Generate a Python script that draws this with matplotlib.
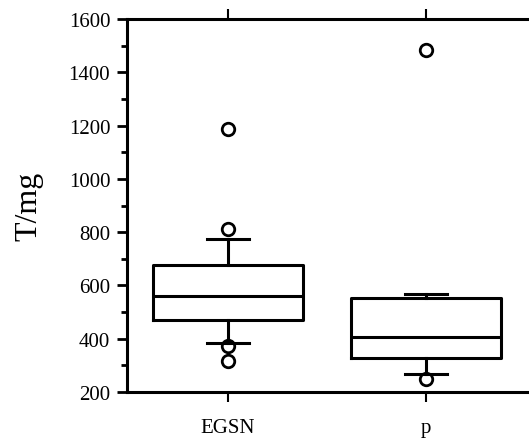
import numpy as np
import matplotlib
matplotlib.use('Agg')
import matplotlib.pyplot as plt

plt.rcParams['font.family'] = ['Liberation Serif', 'DejaVu Serif']

# box summary
groups = ['EGSN', 'p']
q1 = [472, 327]
med = [562, 405]
q3 = [678, 552]
whislo = [384, 268]
whishi = [774, 569]
fliers = [[1187, 812, 373, 318], [1484, 249]]

stats = []
for i in range(len(groups)):
    stats.append({'label': groups[i], 'q1': q1[i], 'med': med[i], 'q3': q3[i],
                  'whislo': whislo[i], 'whishi': whishi[i], 'fliers': fliers[i]})

fig = plt.figure(figsize=(5.29, 4.39), dpi=100)
ax = fig.add_axes([0.240, 0.1048, 0.760, 0.8496])

lw = 2.2
ax.bxp(stats, positions=[1, 2], widths=0.755, capwidths=0.21,
       boxprops=dict(color='black', linewidth=lw),
       whiskerprops=dict(color='black', linewidth=lw),
       capprops=dict(color='black', linewidth=lw),
       medianprops=dict(color='black', linewidth=lw),
       flierprops=dict(marker='o', markerfacecolor='none', markeredgecolor='black',
                       markersize=9, markeredgewidth=2.0))

ax.set_xlim(0.49, 2.52)
ax.set_ylim(200, 1600)
ax.set_yticks(np.arange(200, 1601, 200))
ax.set_yticks(np.arange(300, 1600, 200), minor=True)
ax.set_ylabel('T/mg', fontsize=23, labelpad=18)

ax.spines['right'].set_visible(False)
for s in ['left', 'bottom', 'top']:
    ax.spines[s].set_linewidth(2.2)

ax.tick_params(axis='y', which='major', direction='out', length=7, width=2, labelsize=15, pad=5)
ax.tick_params(axis='y', which='minor', direction='out', length=4, width=2)
ax.tick_params(axis='x', which='major', direction='out', length=7, width=1.5,
               top=True, labelsize=15, pad=12)

fig.savefig('out.png', dpi=100)
